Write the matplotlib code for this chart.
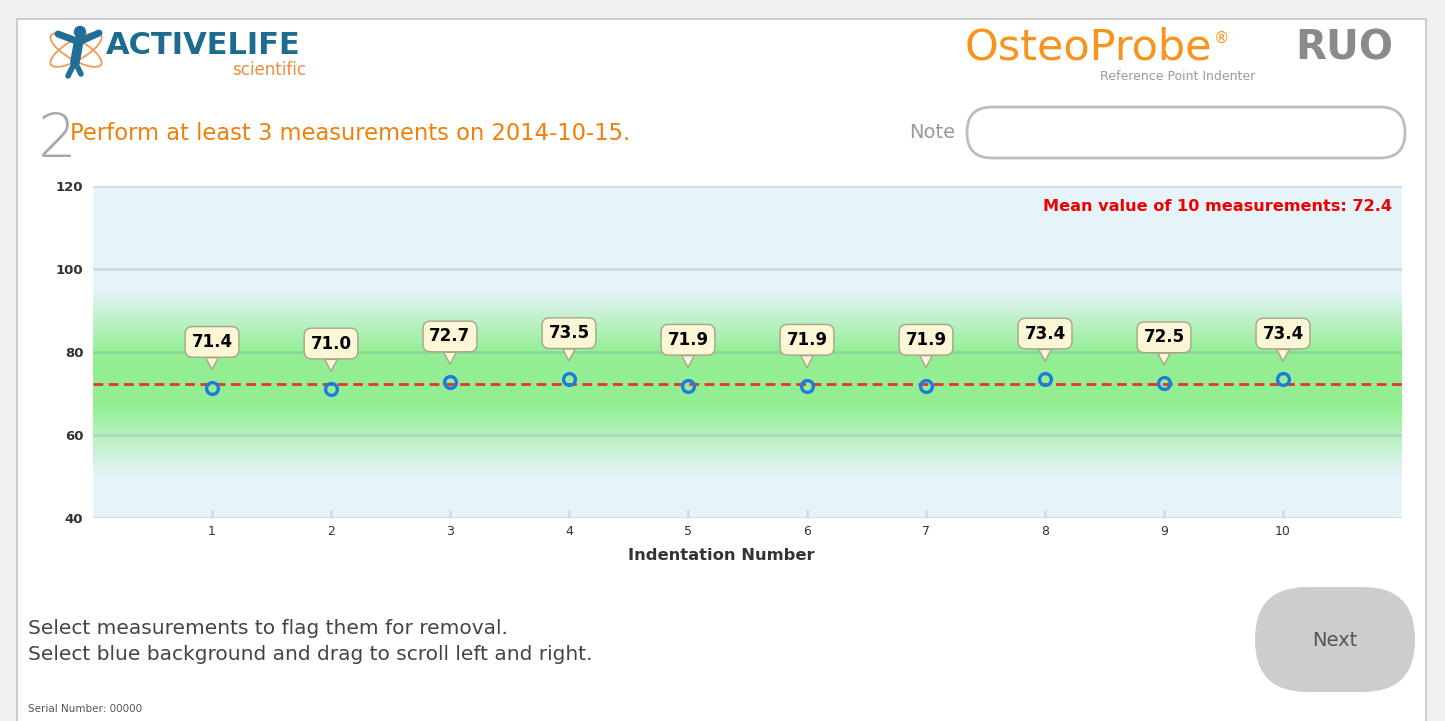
import matplotlib.pyplot as plt
import numpy as np
from matplotlib.patches import Rectangle, FancyBboxPatch, Ellipse, Circle

# dados
indentations = [1, 2, 3, 4, 5, 6, 7, 8, 9, 10]
values = [71.4, 71.0, 72.7, 73.5, 71.9, 71.9, 71.9, 73.4, 72.5, 73.4]
y_ticks = [40, 60, 80, 100, 120]
mean_value = round(float(np.mean(values)), 1)

W, H = 1445, 721
fig = plt.figure(figsize=(W / 100, H / 100), dpi=100, facecolor='#f0f0f0')

# fundo da "tela" em coordenadas de pixel
bg = fig.add_axes([0, 0, 1, 1])
bg.set_xlim(0, W)
bg.set_ylim(H, 0)
bg.axis('off')
bg.add_patch(Rectangle((17, 19), 1409, 720, fc='white', ec='#c4c4c4', lw=1.2))

# logo ActiveLife (aproximado)
for ang in (30, -30):
    bg.add_patch(Ellipse((76, 50), 58, 20, angle=ang, fill=False, ec='#f29a55', lw=1.3))
bg.add_patch(Circle((80, 32), 5.5, color='#1f6f96'))
bg.plot([58, 79, 99], [34, 42, 33], color='#1f6f96', lw=5, solid_capstyle='round')
bg.plot([79, 75], [40, 62], color='#1f6f96', lw=7, solid_capstyle='round')
bg.plot([75, 68], [62, 76], color='#1f6f96', lw=4, solid_capstyle='round')
bg.plot([75, 81], [62, 74], color='#1f6f96', lw=4, solid_capstyle='round')
bg.text(106, 46, 'ACTIVELIFE', fontsize=22, fontweight='bold', color='#1d6b90',
        ha='left', va='center')
bg.text(306, 70, 'scientific', fontsize=12, color='#f08a3c',
        ha='right', va='center')

# logo OsteoProbe
osteo = bg.text(965, 48, 'OsteoProbe', fontsize=31, color='#f7941d', ha='left', va='center')
bg.annotate('®', xy=(1, 0.9), xycoords=osteo, xytext=(1, 0), textcoords='offset points',
            fontsize=11, color='#f7941d', ha='left', va='top')
bg.text(1393, 48, 'RUO', fontsize=29, fontweight='bold', color='#8a8a8a',
        ha='right', va='center')
bg.text(1178, 77, 'Reference Point Indenter', fontsize=9, color='#9b9b9b',
        ha='center', va='center')

# titulo e campo de nota
bg.text(38, 157, '2', fontsize=44, color='#a8a8a8', fontweight='light',
        ha='left', va='baseline')
bg.text(70, 133, 'Perform at least 3 measurements on 2014-10-15.', fontsize=16.3,
        color='#f07f0a', ha='left', va='center')
bg.text(955, 133, 'Note', fontsize=14, color='#9a9a9a', ha='right', va='center')
bg.add_patch(FancyBboxPatch((967, 107), 438, 51, boxstyle='round,pad=0,rounding_size=25',
                            fc='white', ec='#bdbdbd', lw=2))

# textos de baixo e botao
bg.text(28, 628, 'Select measurements to flag them for removal.', fontsize=14.5,
        color='#444444', ha='left', va='center')
bg.text(28, 655, 'Select blue background and drag to scroll left and right.', fontsize=14.5,
        color='#444444', ha='left', va='center')
bg.text(28, 709, 'Serial Number: 00000', fontsize=7.5, color='#555555', ha='left', va='center')
bg.add_patch(FancyBboxPatch((1255, 587), 160, 105, boxstyle='round,pad=0,rounding_size=52',
                            fc='#cdcdcd', ec='none'))
bg.text(1335, 640, 'Next', fontsize=14, color='#555555', ha='center', va='center')

# grafico
ax = fig.add_axes([93 / W, 1 - 518 / H, 1309 / W, 332 / H])
ax.set_xlim(0, 11)
ax.set_ylim(40, 120)

# faixa verde em degrade sobre fundo azul
yy = np.linspace(40, 120, 400)
a = np.interp(yy, [40, 50, 67, 80, 95, 120], [0, 0, 1, 1, 0, 0])
blue = np.array([0.902, 0.953, 0.980])
green = np.array([0.58, 0.937, 0.58])
img = blue[None, :] * (1 - a[:, None]) + green[None, :] * a[:, None]
ax.imshow(img[:, None, :], extent=[0, 11, 40, 120], aspect='auto', origin='lower', zorder=0)

for t in y_ticks:
    ax.axhline(t, color=(0.45, 0.55, 0.62), alpha=0.22, lw=2, zorder=1)

ax.axhline(mean_value, color='#e2372b', lw=2, dashes=(3.5, 2), zorder=2)
ax.plot(indentations, values, 'o', ms=8.5, mfc='none', mec='#1f7ae0', mew=2.4, zorder=4)

for x, v in zip(indentations, values):
    ax.annotate(f'{v:.1f}', xy=(x, v), xytext=(0, 33), textcoords='offset points',
                ha='center', va='center', fontsize=12, fontweight='bold', color='black',
                bbox=dict(boxstyle='round,pad=0.38,rounding_size=0.45', fc='#fbf6d6',
                          ec='#a9a38c', lw=1),
                arrowprops=dict(arrowstyle='wedge,tail_width=0.75,shrink_factor=0.5',
                                fc='#fbf6d6', ec='#a9a38c', lw=1, shrinkA=0, shrinkB=13),
                zorder=5)

ax.text(0.9924, 0.937, f'Mean value of {len(values)} measurements: {mean_value}',
        transform=ax.transAxes, ha='right', va='center', color='#ee0000',
        fontsize=11.6, fontweight='bold')

ax.set_yticks(y_ticks)
ax.set_xticks(indentations)
ax.tick_params(axis='y', length=0, pad=7, labelsize=9.5, labelcolor='#333333')
ax.tick_params(axis='x', direction='in', length=6, width=2, color='#cfdbe3', pad=5,
               labelsize=9, labelcolor='#333333')
for lbl in ax.get_yticklabels():
    lbl.set_fontweight('bold')
for s in ax.spines.values():
    s.set_visible(False)
ax.set_xlabel('Indentation Number', fontsize=11.8, fontweight='bold', color='#333333',
              labelpad=7)
ax.xaxis.label.set_x((721 - 93) / 1309)

fig.savefig('out.png', dpi=100, facecolor=fig.get_facecolor())
